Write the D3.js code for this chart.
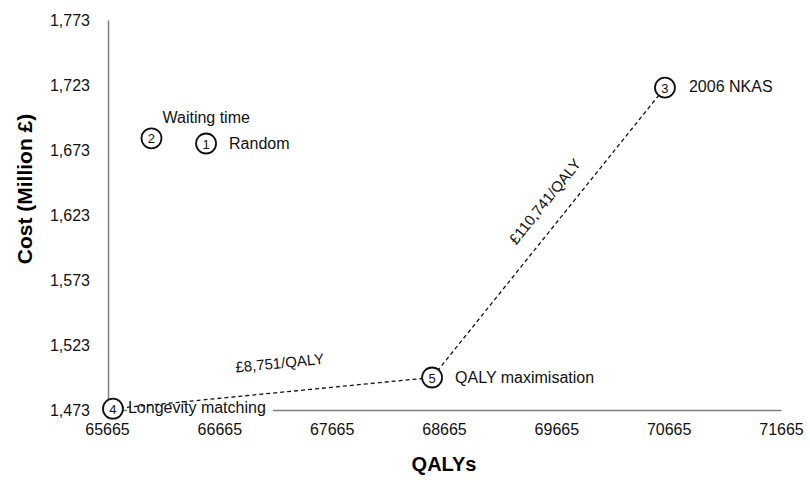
<!DOCTYPE html>
<html lang="en">
  <head>
    <meta charset="UTF-8" />
    <title>Cost vs QALYs</title>
    <style>
      body {
        margin: 0;
        background: #fff;
      }
      svg {
        font-family: "Liberation Sans", Arial, sans-serif;
      }
      .axis .domain {
        stroke: #7f7f7f;
        stroke-width: 1.5;
      }
      .axis text {
        font-size: 16px;
        fill: #111;
      }
      .frontier {
        fill: none;
        stroke: #111;
        stroke-width: 1.3;
        stroke-dasharray: 4 3;
      }
    </style>
  </head>
  <body>
    <div id="chart"></div>
    <script src="https://cdnjs.cloudflare.com/ajax/libs/d3/7.8.5/d3.min.js"></script>
    <script>
      // strategies (number in circle, name, QALYs, cost in million £)
      const strategyIds = [1, 2, 3, 4, 5];
      const strategyNames = ["Random", "Waiting time", "2006 NKAS", "Longevity matching", "QALY maximisation"];
      const qalys = [66547, 66061, 70632, 65718, 68559];
      const costs = [1678, 1682, 1721, 1474, 1498];

      // efficiency frontier, in order, and the ICER of each step
      const frontierIds = [4, 5, 3];
      const icerLabels = ["£8,751/QALY", "£110,741/QALY"];

      const xTicks = [65665, 66665, 67665, 68665, 69665, 70665, 71665];
      const yTicks = [1473, 1523, 1573, 1623, 1673, 1723, 1773];

      const width = 810,
        height = 480;

      const x = d3.scaleLinear().domain([65665, 71665]).range([107, 781]);
      const y = d3.scaleLinear().domain([1473, 1773]).range([410, 20]);

      const svg = d3
        .select("#chart")
        .append("svg")
        .attr("width", width)
        .attr("height", height);

      // axes
      svg
        .append("g")
        .attr("class", "axis")
        .attr("transform", `translate(0,${y(1473)})`)
        .call(d3.axisBottom(x).tickValues(xTicks).tickSize(0).tickPadding(14).tickFormat(d3.format("d")));

      svg
        .append("g")
        .attr("class", "axis")
        .attr("transform", `translate(${x(65665) + 1},0)`)
        .call(d3.axisLeft(y).tickValues(yTicks).tickSize(0).tickPadding(18).tickFormat(d3.format(",")));

      // axis titles
      svg
        .append("text")
        .attr("x", 444)
        .attr("y", 466)
        .attr("text-anchor", "middle")
        .attr("dominant-baseline", "middle")
        .style("font-weight", "bold")
        .style("font-size", "20px")
        .text("QALYs");

      svg
        .append("text")
        .attr("transform", "translate(26,189) rotate(-90)")
        .attr("text-anchor", "middle")
        .attr("dominant-baseline", "middle")
        .style("font-weight", "bold")
        .style("font-size", "21px")
        .text("Cost (Million £)");

      const points = strategyIds.map((id, i) => ({
        id: id,
        name: strategyNames[i],
        q: qalys[i],
        c: costs[i],
      }));
      const byId = (id) => points.find((p) => p.id == id);

      // where each name sits next to its circle
      const labelPos = {
        1: [23, 1],
        2: [11, -20],
        3: [24, 0],
        4: [15, 0],
        5: [23, 1],
      };

      const labels = svg.append("g");
      points.forEach((p) => {
        let t = labels
          .append("text")
          .attr("x", x(p.q) + labelPos[p.id][0])
          .attr("y", y(p.c) + labelPos[p.id][1])
          .attr("dominant-baseline", "middle")
          .style("font-size", "16px")
          .style("fill", "#111")
          .text(p.name);
        if (p.id == 4) {
          // white box over the axis line, like the excel label
          let bb = t.node().getBBox();
          labels
            .insert("rect", "text")
            .attr("x", bb.x - 1)
            .attr("y", bb.y)
            .attr("width", bb.width + 8)
            .attr("height", bb.height)
            .attr("fill", "#fff");
        }
      });

      // frontier
      const fr = frontierIds.map(byId);
      const line = d3
        .line()
        .x((d) => x(d.q))
        .y((d) => y(d.c));
      svg.append("path").attr("class", "frontier").attr("d", line(fr));

      // ICER labels along each step
      const icerOffset = [
        [10, -28],
        [22, -21],
      ];
      for (let i = 0; i < fr.length - 1; i++) {
        let x0 = x(fr[i].q),
          y0 = y(fr[i].c),
          x1 = x(fr[i + 1].q),
          y1 = y(fr[i + 1].c);
        let ang = (Math.atan2(y1 - y0, x1 - x0) * 180) / Math.PI;
        svg
          .append("text")
          .attr("transform", `translate(${(x0 + x1) / 2},${(y0 + y1) / 2}) rotate(${ang})`)
          .attr("x", icerOffset[i][0])
          .attr("y", icerOffset[i][1])
          .attr("text-anchor", "middle")
          .attr("dominant-baseline", "middle")
          .style("font-size", "15px")
          .style("fill", "#111")
          .text(icerLabels[i]);
      }

      // numbered circles
      const mk = svg
        .selectAll(".mk")
        .data(points)
        .join("g")
        .attr("class", "mk")
        .attr("transform", (d) => `translate(${x(d.q)},${y(d.c)})`);
      mk.append("circle").attr("r", 10).attr("fill", "#fff").attr("stroke", "#111").attr("stroke-width", 1.8);
      mk.append("text")
        .attr("text-anchor", "middle")
        .attr("dominant-baseline", "central")
        .attr("y", 0.5)
        .style("font-size", "13px")
        .style("fill", "#111")
        .text((d) => d.id);
    </script>
  </body>
</html>
